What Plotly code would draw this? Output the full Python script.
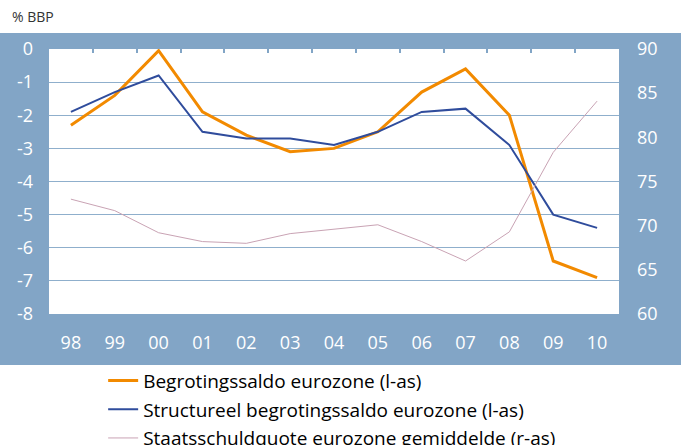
import plotly.graph_objects as go

years = ["98", "99", "00", "01", "02", "03", "04", "05", "06", "07", "08", "09", "10"]
begrotingssaldo = [-2.3, -1.4, -0.05, -1.9, -2.6, -3.1, -3.0, -2.5, -1.3, -0.6, -2.0, -6.4, -6.9]
structureel = [-1.9, -1.3, -0.8, -2.5, -2.7, -2.7, -2.9, -2.5, -1.9, -1.8, -2.9, -5.0, -5.4]
staatsschuld = [73.0, 71.7, 69.2, 68.2, 68.0, 69.1, 69.6, 70.1, 68.2, 66.0, 69.3, 78.3, 84.1]
left_ticks = [0, -1, -2, -3, -4, -5, -6, -7, -8]
left_labels = ["0", "-1", "-2", "-3", "-4", "-5", "-6", "-7", "-8"]
right_ticks = [90, 85, 80, 75, 70, 65, 60]

FRAME = "#82A5C6"
GRID = "#8FAFCC"
FONT = "Open Sans"

fig = go.Figure()
fig.add_trace(go.Scatter(x=years, y=begrotingssaldo, mode="lines", name="Begrotingssaldo eurozone (l-as)",
                         line=dict(color="#F28A00", width=3), legendgroup="a"))
fig.add_trace(go.Scatter(x=years, y=structureel, mode="lines", name="Structureel begrotingssaldo eurozone (l-as)",
                         line=dict(color="#2F4C9C", width=2), legendgroup="b"))
fig.add_trace(go.Scatter(x=years, y=staatsschuld, mode="lines", name="Staatsschuldquote eurozone gemiddelde (r-as)",
                         line=dict(color="#C9A3B4", width=1), yaxis="y2", legendgroup="c"))
# invisible trace carrying the top tick axis
fig.add_trace(go.Scatter(x=years, y=begrotingssaldo, mode="lines", xaxis="x2", showlegend=False,
                         line=dict(color="rgba(0,0,0,0)"), hoverinfo="skip"))

fig.update_layout(
    width=681, height=445,
    margin=dict(l=49, r=62, t=49, b=131, autoexpand=False),
    paper_bgcolor="white", plot_bgcolor="white",
    font=dict(family=FONT, size=18, color="white"),
    xaxis=dict(type="category", range=[-0.5, 12.5], showgrid=False, zeroline=False, showline=False,
               ticks="", tickfont=dict(size=18, color="white"), ticklabelstandoff=16),
    xaxis2=dict(type="category", overlaying="x", side="top", range=[-0.5, 12.5], showgrid=False,
                zeroline=False, showline=False, ticks="inside", tickson="boundaries", ticklen=4,
                tickcolor=FRAME, tickwidth=2, showticklabels=False),
    yaxis=dict(range=[-8, 0], tickvals=left_ticks, ticktext=left_labels, showgrid=True, gridcolor=GRID,
               gridwidth=1, zeroline=False, showline=False, ticks="", tickfont=dict(size=18, color="white"),
               ticklabelstandoff=15),
    yaxis2=dict(range=[60, 90], tickvals=right_ticks, overlaying="y", side="right", showgrid=False,
                zeroline=False, showline=False, ticks="", tickfont=dict(size=18, color="white"),
                ticklabelstandoff=17),
    legend=dict(x=0.095, y=-0.18, xanchor="left", yanchor="top", orientation="v",
                font=dict(size=19, color="black", family=FONT), tracegroupgap=1,
                bgcolor="rgba(0,0,0,0)"),
    showlegend=True,
    shapes=[
        dict(type="rect", xref="paper", yref="paper", x0=-0.09, x1=1.12, y0=-0.1925, y1=1.0604,
             fillcolor=FRAME, line=dict(width=0), layer="below"),
        dict(type="rect", xref="paper", yref="paper", x0=0, x1=1, y0=0, y1=1,
             fillcolor="white", line=dict(width=0), layer="below"),
    ],
    annotations=[
        dict(text="% BBP", xref="paper", yref="paper", x=-0.069, y=1.121, xanchor="left", yanchor="middle",
             showarrow=False, font=dict(size=14, color="#333333", family=FONT)),
    ],
)

fig.write_html("out.html", config={"displayModeBar": False},
               post_script="document.body.style.margin='0';document.body.style.padding='0';")
